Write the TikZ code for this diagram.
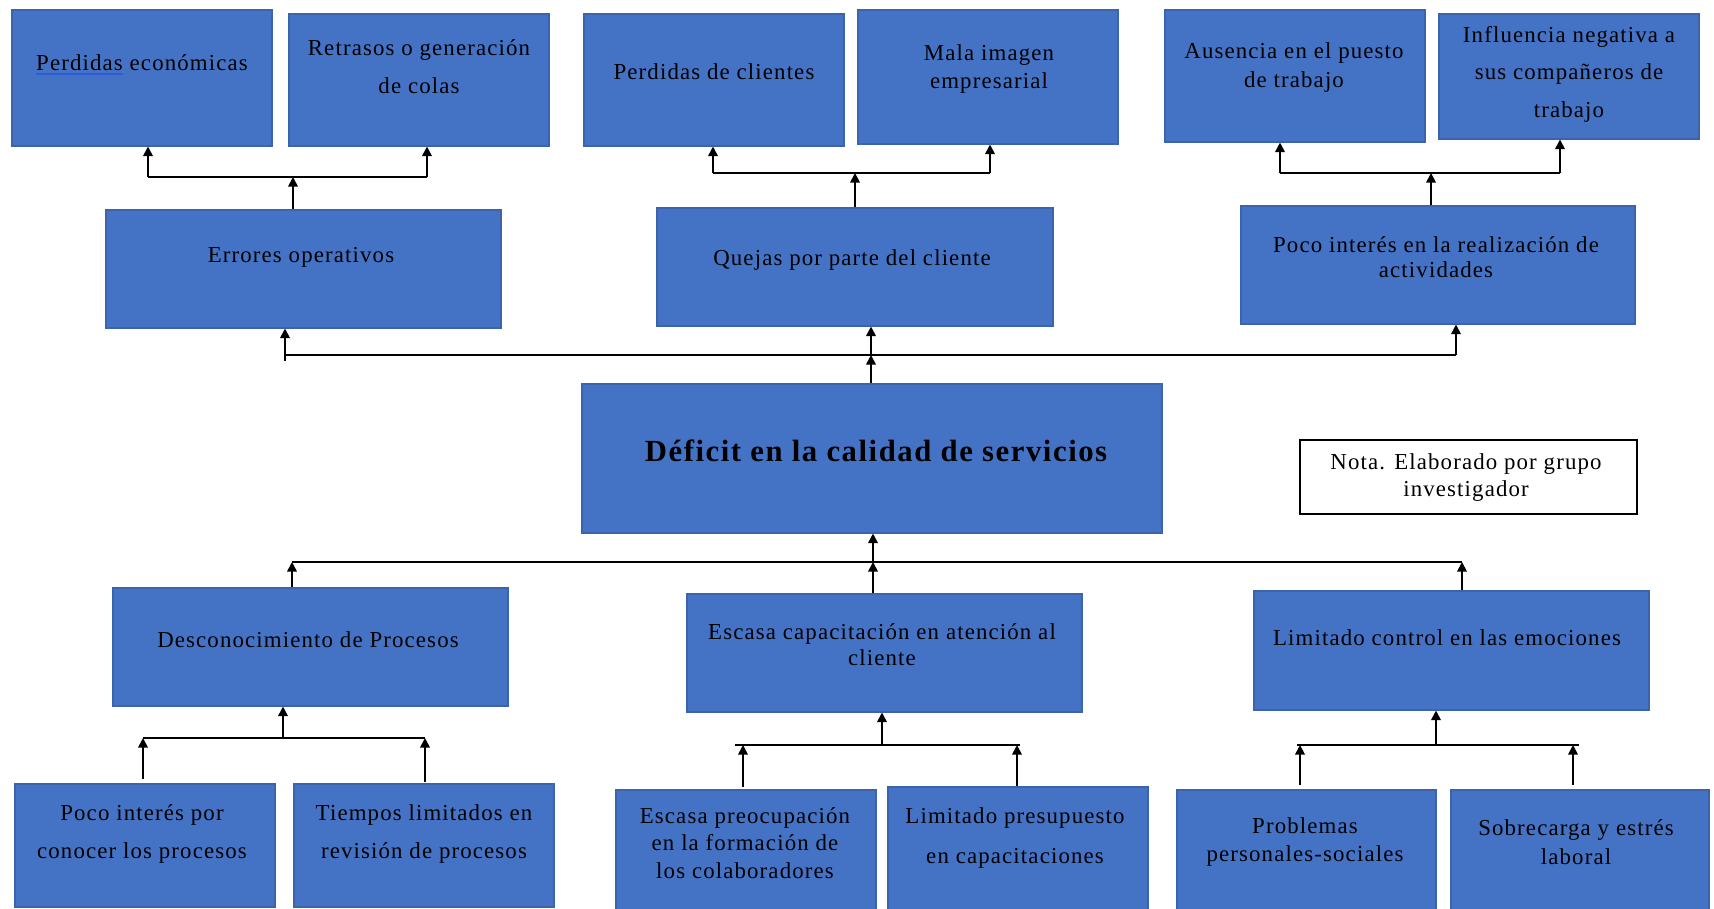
\documentclass[tikz,border=0pt]{standalone}
\usepackage{fontspec}
\setmainfont{Liberation Serif}
\newfontfamily\lsfont{Liberation Serif}[LetterSpace=5]
\usetikzlibrary{arrows.meta,fit,calc}
\definecolor{boxfill}{HTML}{4472C4}
\definecolor{boxline}{HTML}{3B64AD}
\definecolor{squig}{HTML}{2E5BD8}
\newcommand\spellmark[1]{\leavevmode\setbox0\hbox{#1}\rlap{\color{squig}\rule[-2.4pt]{\wd0}{0.9pt}}\box0\relax}
\begin{document}
\begin{tikzpicture}[x=0.02cm,y=-0.02cm,
  box/.style={draw=boxline, fill=boxfill, line width=0.6pt, inner sep=0pt},
  txt/.style={align=center, inner sep=0pt, font=\lsfont\fontsize{13}{15}\selectfont},
  ttl/.style={align=center, inner sep=0pt, font=\lsfont\bfseries\fontsize{17.5}{20}\selectfont},
  notebox/.style={draw=black, line width=0.9pt, fill=white, inner sep=0pt},
  conn/.style={line width=1pt},
  arr/.style={line width=1pt, -{Triangle[length=5.5pt,width=5.5pt]}}]
\useasboundingbox (0,0) rectangle (1714,909);

% ---------- top row boxes ----------
\node[box, fit={(12,10) (272,146)}] (pe) {};
\node[box, fit={(289,14) (549,146)}] (re) {};
\node[box, fit={(584,14) (844,146)}] (pc) {};
\node[box, fit={(858,10) (1118,144)}] (mi) {};
\node[box, fit={(1165,10) (1425,142)}] (au) {};
\node[box, fit={(1439,14) (1699,139)}] (inf) {};

\node[txt] (pet) at (142,65) {\spellmark{Perdidas} económicas};
\node[txt] (ret) at (419,67) {Retrasos o generación\\[6.5pt]de colas};
\node[txt] (pct) at (714,72) {Perdidas de clientes};
\node[txt] (mit) at (989,69) {Mala imagen\\[1pt]empresarial};
\node[txt] (aut) at (1294,68) {Ausencia en el puesto\\[1.5pt]de trabajo};
\node[txt] (inft) at (1569,74) {Influencia negativa a\\[6.3pt]sus compañeros de\\[6.3pt]trabajo};

% ---------- second row ----------
\node[box, fit={(106,210) (501,328)}] (err) {};
\node[box, fit={(657,208) (1053,326)}] (qu) {};
\node[box, fit={(1241,206) (1635,324)}] (pi) {};
\node[txt] (errt) at (301,257) {Errores operativos};
\node[txt] (qut) at (852,260) {Quejas por parte del cliente};
\node[txt] (pit) at (1436,257) {Poco interés en la realización de\\[-0.8pt]actividades};

% ---------- centre ----------
\node[box, fit={(582,384) (1162,533)}] (def) {};
\node[ttl] (deft) at (876,451) {Déficit en la calidad de servicios};
\node[notebox, fit={(1300,440) (1637,514)}] (nota) {};
\node[txt] (notat) at (1466,478) {Nota. Elaborado por grupo\\[0.4pt]investigador};

% ---------- lower row ----------
\node[box, fit={(113,588) (508,706)}] (desc) {};
\node[box, fit={(687,594) (1082,712)}] (esc) {};
\node[box, fit={(1254,591) (1649,710)}] (lc) {};
\node[txt] (desct) at (308,640) {Desconocimiento de Procesos};
\node[txt] (esct) at (882,645) {Escasa capacitación en atención al\\[-0.2pt]cliente};
\node[txt] (lct) at (1447,638) {Limitado control en las emociones};

% ---------- bottom row ----------
\node[box, fit={(15,784) (275,907)}] (pp) {};
\node[box, fit={(294,784) (554,907)}] (ti) {};
\node[box, fit={(616,790) (876,912)}] (ep) {};
\node[box, fit={(888,787) (1148,912)}] (lp) {};
\node[box, fit={(1177,790) (1436,912)}] (pr) {};
\node[box, fit={(1451,790) (1709,912)}] (so) {};
\node[txt] (ppt) at (142,834) {Poco interés por\\[6.6pt]conocer los procesos};
\node[txt] (tit) at (424,834) {Tiempos limitados en\\[6.6pt]revisión de procesos};
\node[txt] (ept) at (745,843) {Escasa preocupación\\[0.6pt]en la formación de\\[0.6pt]los colaboradores};
\node[txt] (lpt) at (1015,838) {Limitado presupuesto\\[7.2pt]en capacitaciones};
\node[txt] (prt) at (1305,842) {Problemas\\[1.5pt]personales-sociales};
\node[txt] (sot) at (1576,842) {Sobrecarga y estrés\\[1.5pt]laboral};

% ---------- connectors: top groups ----------
\coordinate (g1l) at (148,177); \coordinate (g1c) at (293,177); \coordinate (g1r) at (427,177);
\draw[conn] (g1l) -- (g1r);
\draw[arr] (g1c |- err.north) -- (g1c);
\draw[arr] (g1l) -- (g1l |- pe.south);
\draw[arr] (g1r) -- (g1r |- re.south);

\coordinate (g2l) at (713,173); \coordinate (g2c) at (855,173); \coordinate (g2r) at (990,173);
\draw[conn] (g2l) -- (g2r);
\draw[arr] (g2c |- qu.north) -- (g2c);
\draw[arr] (g2l) -- (g2l |- pc.south);
\draw[arr] (g2r) -- (g2r |- mi.south);

\coordinate (g3l) at (1280,173); \coordinate (g3c) at (1431,173); \coordinate (g3r) at (1560,173);
\draw[conn] (g3l) -- (g3r);
\draw[arr] (g3c |- pi.north) -- (g3c);
\draw[arr] (g3l) -- (g3l |- au.south);
\draw[arr] (g3r) -- (g3r |- inf.south);

% ---------- connectors: effects bar ----------
\coordinate (mL) at (285,355); \coordinate (mC) at (871,355); \coordinate (mR) at (1456,355);
\draw[conn] (mL) -- (mR);
\draw[arr] (mC |- def.north) -- (mC);
\draw[arr] ($(mL)+(0,6)$) -- (mL |- err.south);
\draw[arr] (mC) -- (mC |- qu.south);
\draw[arr] (mR) -- (mR |- pi.south);

% ---------- connectors: causes bar ----------
\coordinate (bL) at (292,562); \coordinate (bC) at (873,562); \coordinate (bR) at (1462,562);
\draw[conn] (bL) -- (bR);
\draw[arr] (bC) -- (bC |- def.south);
\draw[arr] (bL |- desc.north) -- (bL);
\draw[arr] (bC |- esc.north) -- (bC);
\draw[arr] (bR |- lc.north) -- (bR);

% ---------- connectors: bottom groups ----------
\coordinate (h1l) at (143,738); \coordinate (h1c) at (283,738); \coordinate (h1r) at (425,738);
\draw[conn] (h1l) -- (h1r);
\draw[arr] (h1c) -- (h1c |- desc.south);
\draw[arr, shorten <=2.5pt] (h1l |- pp.north) -- (h1l);
\draw[arr, shorten <=1pt] (h1r |- ti.north) -- (h1r);

\coordinate (h2l) at (735,745); \coordinate (h2c) at (882,745); \coordinate (h2r) at (1020,745);
\draw[conn] (h2l) -- (h2r);
\draw[arr] (h2c) -- (h2c |- esc.south);
\draw[arr, shorten <=1.5pt] (743,790 |- ep.north) -- (743,745);
\draw[arr] (1017,790 |- lp.north) -- (1017,745);

\coordinate (h3l) at (1297,745); \coordinate (h3c) at (1436,745); \coordinate (h3r) at (1579,745);
\draw[conn] (h3l) -- (h3r);
\draw[arr] (h3c) -- (h3c |- lc.south);
\draw[arr, shorten <=2.5pt] (1300,790 |- pr.north) -- (1300,745);
\draw[arr, shorten <=2.5pt] (1573,790 |- so.north) -- (1573,745);
\end{tikzpicture}
\end{document}
